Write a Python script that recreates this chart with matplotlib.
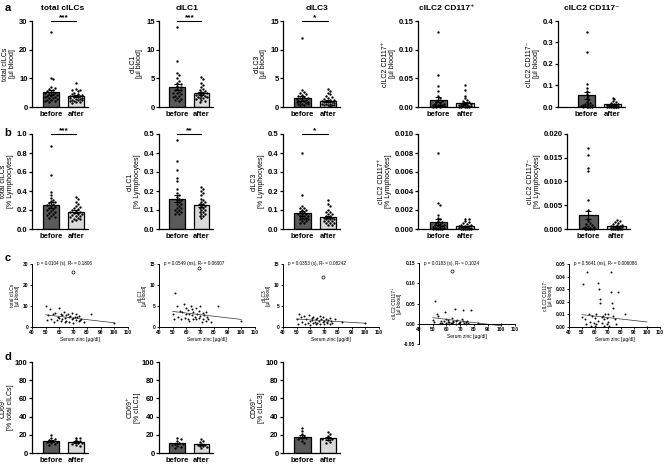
import numpy as np
import matplotlib
matplotlib.use("Agg")
import matplotlib.pyplot as plt
from matplotlib.ticker import FormatStrFormatter, MultipleLocator

plt.rcParams['font.family'] = ['Liberation Sans', 'DejaVu Sans']
plt.rcParams['font.weight'] = 'bold'
plt.rcParams['axes.linewidth'] = 0.9

W, H = 669, 465

# ---- data ----
groups = ["before", "after"]
titles = ["total cILCs", "cILC1", "cILC3", "cILC2 CD117\u207a", "cILC2 CD117\u207b"]

# row a: cells per ul blood
a1_before = [26, 10.2, 9.6, 7.0, 6.5, 6.2, 5.8, 5.5, 5.2, 5.0, 4.8, 4.6, 4.4, 4.2, 4.0, 3.8, 3.6, 3.4, 3.2, 3.0, 2.8, 2.6, 2.4, 2.2, 2.0, 1.8]
a1_after = [8.5, 6.2, 6.0, 5.8, 5.5, 5.0, 4.6, 4.4, 4.2, 4.0, 3.9, 3.7, 3.5, 3.4, 3.2, 3.0, 2.9, 2.8, 2.6, 2.5, 2.3, 2.2, 2.0, 1.8, 1.6, 1.4]
a2_before = [14.0, 8.0, 6.0, 5.6, 5.0, 4.6, 4.2, 4.0, 3.7, 3.5, 3.2, 3.0, 2.9, 2.7, 2.5, 2.4, 2.2, 2.0, 1.9, 1.7, 1.5, 1.4, 1.2, 1.0]
a2_after = [5.2, 4.8, 4.2, 3.8, 3.5, 3.2, 3.0, 2.8, 2.6, 2.5, 2.4, 2.3, 2.2, 2.1, 2.0, 1.9, 1.8, 1.7, 1.6, 1.5, 1.4, 1.2, 1.0, 0.8]
a3_before = [12.0, 3.0, 2.7, 2.5, 2.3, 2.1, 1.9, 1.7, 1.6, 1.5, 1.4, 1.3, 1.2, 1.1, 1.0, 0.9, 0.8, 0.8, 0.7, 0.6, 0.5, 0.5, 0.4, 0.3]
a3_after = [3.2, 2.8, 2.5, 2.2, 2.0, 1.8, 1.6, 1.4, 1.3, 1.2, 1.1, 1.0, 0.9, 0.8, 0.8, 0.7, 0.6, 0.6, 0.5, 0.4, 0.4, 0.3, 0.3, 0.2]
a4_before = [0.131, 0.055, 0.037, 0.028, 0.020, 0.016, 0.012, 0.010, 0.008, 0.007, 0.006, 0.005, 0.004, 0.004, 0.003, 0.003, 0.002, 0.002, 0.001, 0.001, 0.001, 0.0, 0.0, 0.0]
a4_after = [0.038, 0.030, 0.020, 0.015, 0.012, 0.010, 0.008, 0.007, 0.006, 0.005, 0.004, 0.004, 0.003, 0.003, 0.002, 0.002, 0.001, 0.001, 0.001, 0.0, 0.0, 0.0, 0.0, 0.0]
a5_before = [0.350, 0.255, 0.105, 0.090, 0.075, 0.060, 0.050, 0.040, 0.032, 0.025, 0.020, 0.016, 0.012, 0.010, 0.008, 0.006, 0.005, 0.004, 0.003, 0.002, 0.001, 0.001, 0.0, 0.0]
a5_after = [0.042, 0.035, 0.028, 0.022, 0.018, 0.015, 0.012, 0.010, 0.009, 0.008, 0.007, 0.006, 0.005, 0.004, 0.004, 0.003, 0.002, 0.002, 0.001, 0.001, 0.0, 0.0, 0.0, 0.0]
a_means = [[5.2, 3.8], [3.5, 2.4], [1.5, 1.1], [0.013, 0.007], [0.055, 0.012]]
a_sems = [[0.9, 0.35], [0.5, 0.25], [0.4, 0.15], [0.005, 0.002], [0.017, 0.002]]

# row b: % of lymphocytes
b1_before = [0.87, 0.57, 0.39, 0.36, 0.33, 0.31, 0.29, 0.28, 0.27, 0.26, 0.25, 0.24, 0.23, 0.22, 0.21, 0.20, 0.19, 0.18, 0.17, 0.16, 0.15, 0.14, 0.13, 0.12]
b1_after = [0.34, 0.32, 0.28, 0.26, 0.24, 0.23, 0.22, 0.21, 0.20, 0.19, 0.18, 0.18, 0.17, 0.16, 0.16, 0.15, 0.14, 0.14, 0.13, 0.12, 0.11, 0.10, 0.09, 0.08]
b2_before = [0.47, 0.36, 0.31, 0.27, 0.25, 0.21, 0.19, 0.18, 0.17, 0.16, 0.15, 0.15, 0.14, 0.13, 0.13, 0.12, 0.11, 0.11, 0.10, 0.10, 0.09, 0.09, 0.08, 0.08]
b2_after = [0.22, 0.21, 0.20, 0.19, 0.18, 0.16, 0.15, 0.14, 0.14, 0.13, 0.13, 0.12, 0.12, 0.11, 0.11, 0.10, 0.10, 0.09, 0.09, 0.08, 0.08, 0.07, 0.07, 0.06]
b3_before = [0.40, 0.18, 0.12, 0.11, 0.11, 0.10, 0.10, 0.09, 0.09, 0.08, 0.08, 0.08, 0.07, 0.07, 0.07, 0.06, 0.06, 0.05, 0.05, 0.05, 0.04, 0.04, 0.03, 0.03]
b3_after = [0.15, 0.13, 0.12, 0.10, 0.09, 0.09, 0.08, 0.08, 0.07, 0.07, 0.06, 0.06, 0.06, 0.05, 0.05, 0.05, 0.04, 0.04, 0.04, 0.03, 0.03, 0.03, 0.02, 0.02]
b4_before = [0.0080, 0.0027, 0.0025, 0.0015, 0.0012, 0.0010, 0.0008, 0.0007, 0.0006, 0.0005, 0.0004, 0.0004, 0.0003, 0.0003, 0.0002, 0.0002, 0.0001, 0.0001, 0.0001, 0.0, 0.0, 0.0, 0.0, 0.0]
b4_after = [0.0011, 0.0010, 0.0008, 0.0007, 0.0006, 0.0005, 0.0004, 0.0004, 0.0003, 0.0003, 0.0003, 0.0002, 0.0002, 0.0002, 0.0001, 0.0001, 0.0001, 0.0001, 0.0, 0.0, 0.0, 0.0, 0.0, 0.0]
b5_before = [0.0170, 0.0155, 0.0128, 0.0122, 0.0062, 0.0040, 0.0030, 0.0022, 0.0016, 0.0012, 0.0010, 0.0008, 0.0006, 0.0005, 0.0004, 0.0003, 0.0002, 0.0002, 0.0001, 0.0001, 0.0, 0.0, 0.0, 0.0]
b5_after = [0.0018, 0.0016, 0.0014, 0.0012, 0.0010, 0.0009, 0.0008, 0.0007, 0.0006, 0.0005, 0.0005, 0.0004, 0.0004, 0.0003, 0.0003, 0.0002, 0.0002, 0.0001, 0.0001, 0.0, 0.0, 0.0, 0.0, 0.0]
b_means = [[0.25, 0.18], [0.16, 0.125], [0.083, 0.065], [0.0007, 0.0003], [0.003, 0.0006]]
b_sems = [[0.03, 0.015], [0.017, 0.008], [0.013, 0.006], [0.0003, 0.00006], [0.0008, 0.0001]]

# row c: serum zinc vs cell counts
zinc = [50, 51, 52, 53, 54, 55, 56, 57, 58, 59, 60, 60, 61, 61, 62, 62, 63, 64, 64, 65,
        65, 66, 67, 67, 68, 69, 69, 70, 70, 71, 72, 72, 73, 74, 74, 75, 76, 78, 83, 100]
c1_y = [10.2, 3.5, 5.5, 8.8, 4.0, 6.0, 2.5, 6.5, 3.2, 5.0, 9.2, 4.5, 6.0, 2.8, 5.5, 3.6, 7.0, 4.2, 2.2, 5.8,
        3.0, 6.3, 4.8, 2.6, 5.2, 3.8, 6.6, 4.4, 2.0, 5.0, 3.3, 6.0, 4.6, 2.8, 5.4, 3.5, 4.0, 2.5, 6.0, 2.0]
c2_y = [3.0, 2.0, 8.0, 5.0, 2.5, 3.8, 1.8, 3.5, 5.5, 2.2, 4.5, 3.0, 2.0, 4.0, 3.2, 1.5, 5.0, 2.8, 4.2, 2.0,
        3.5, 2.5, 4.5, 1.8, 3.0, 2.2, 3.8, 5.0, 2.6, 1.2, 3.3, 2.0, 2.8, 3.6, 1.5, 2.4, 2.0, 1.2, 5.0, 1.5]
c3_y = [1.8, 0.8, 3.2, 2.4, 1.2, 2.6, 0.6, 2.0, 1.0, 2.8, 1.4, 0.5, 2.2, 1.6, 0.9, 2.5, 1.2, 1.8, 0.7, 2.2,
        1.0, 1.5, 2.6, 0.8, 1.9, 1.1, 2.4, 1.4, 0.6, 2.0, 1.2, 0.9, 1.7, 2.2, 0.8, 1.5, 1.0, 1.8, 1.3, 0.9]
c4_y = [0.010, 0.004, 0.055, 0.025, 0.020, 0.003, 0.008, 0.002, 0.006, 0.028, 0.012, 0.002, 0.005, 0.009, 0.000, 0.004, 0.003, 0.015, 0.001, 0.004,
        0.007, 0.036, 0.007, 0.000, 0.010, 0.003, 0.001, 0.005, 0.000, 0.012, 0.034, 0.006, 0.001, 0.004, 0.000, 0.008, 0.003, 0.034, 0.001, 0.000]
c5_y = [0.008, 0.034, 0.006, 0.002, 0.044, 0.010, 0.004, 0.001, 0.009, 0.003, 0.007, 0.001, 0.010, 0.002, 0.035, 0.005, 0.030, 0.022, 0.019, 0.008,
        0.003, 0.009, 0.001, 0.006, 0.010, 0.002, 0.007, 0.004, 0.010, 0.001, 0.044, 0.028, 0.019, 0.015, 0.009, 0.006, 0.002, 0.028, 0.010, 0.000]
c_outliers = [(70, 26), (69, 14), (69, 12), (64, 0.13), None]
c_fit = [(9.6, -0.076), (5.6, -0.038), (2.9, -0.02), (0.035, -0.0004), (0.0156, -0.000116)]
c_text = ["p = 0.0104 (s), R\u00b2 = 0.1806", "p = 0.0549 (ns), R\u00b2 = 0.06007",
          "p = 0.0353 (s), R\u00b2 = 0.08242", "p = 0.0183 (s), R\u00b2 = 0.1024",
          "p = 0.5641 (ns), R\u00b2 = 0.006086"]

# row d: CD69+ fraction
d1_before = [20, 16, 15, 14, 13, 12, 12, 11, 10, 9]
d1_after = [17, 16, 14, 13, 12, 11, 11, 10, 9, 8]
d2_before = [16, 15, 13, 11, 10, 10, 9, 8, 7, 6]
d2_after = [15, 13, 12, 10, 9, 9, 8, 8, 7, 6]
d3_before = [28, 24, 21, 19, 18, 17, 16, 15, 13, 11]
d3_after = [23, 21, 19, 17, 16, 15, 15, 14, 12, 11]
d_means = [[13, 12], [10.5, 9.5], [18, 16]]
d_sems = [[1.0, 0.9], [1.0, 0.8], [1.7, 1.2]]

colors = ["#5a5a5a", "#d9d9d9"]

fig = plt.figure(figsize=(W / 100, H / 100), dpi=100)


def add_ax(l, t, r, b):
    return fig.add_axes([l / W, 1 - b / H, (r - l) / W, (b - t) / H])


def swarm(vals, ytop, h_px, unit_px, d=2.4):
    # simple beeswarm kept inside the bar width
    max_off = 0.27 * unit_px
    cands = [0.0]
    k = 1
    while k * d * 0.8 <= max_off:
        cands += [k * d * 0.8, -k * d * 0.8]
        k += 1
    placed, offs = [], []
    for v in sorted(vals, reverse=True):
        y = v / ytop * h_px
        best, best_gap = 0.0, -1
        for c in cands:
            gap = min([np.hypot(c - px, y - py) for px, py in placed] + [99])
            if gap >= d:
                best = c
                break
            if gap > best_gap:
                best, best_gap = c, gap
        placed.append((best, y))
        offs.append((best / unit_px, v))
    return offs


def bar_panel(box, ytop, step, fmt, pts, means, sems, ylabel, sig=None, xl=-0.76, lpad=2):
    l, t, r, b = box
    ax = add_ax(l, t, r, b)
    xr = 1.48
    ax.set_xlim(xl, xr)
    ax.set_ylim(0, ytop)
    unit_px = (r - l) / (xr - xl)
    for i in range(2):
        ax.bar(i, means[i], width=0.65, color=colors[i], edgecolor="black", linewidth=0.9, zorder=2)
        for dx, v in swarm(pts[i], ytop, b - t, unit_px):
            ax.plot(i + dx, v, "o", ms=1.7, color="black", mew=0, zorder=3, clip_on=False)
        ax.errorbar(i, means[i], yerr=sems[i], color="black", capsize=2.5, elinewidth=0.8,
                    capthick=0.8, zorder=4)
    ax.yaxis.set_major_locator(MultipleLocator(step))
    ax.yaxis.set_major_formatter(FormatStrFormatter(fmt))
    ax.set_xticks([0, 1])
    ax.set_xticklabels(groups)
    ax.tick_params(axis="x", length=0, labelsize=5.5, pad=3)
    ax.tick_params(axis="y", length=2.2, width=0.9, labelsize=5.5, pad=1)
    for s in ["top", "right"]:
        ax.spines[s].set_visible(False)
    ax.set_ylabel(ylabel, fontsize=5, labelpad=lpad, linespacing=1.0)
    if sig:
        ax.plot([0, 1], [ytop, ytop], color="black", lw=0.8, clip_on=False)
        ax.text(0.5, ytop, sig, ha="center", va="bottom", fontsize=6, transform=ax.transData)
    return ax


def scatter_panel(box, ylo, ytop, step, fmt, yvals, outlier, fit, txt, ylabel):
    l, t, r, b = box
    ax = add_ax(l, t, r, b)
    ax.set_xlim(40, 110)
    ax.set_ylim(ylo, ytop)
    ax.plot(zinc, yvals, "o", ms=1.4, color="black", mew=0, clip_on=False)
    if outlier:
        ax.plot(outlier[0], outlier[1], "o", ms=2.2, mfc="white", mec="black", mew=0.5)
    xs = np.array([min(zinc), max(zinc)])
    ax.plot(xs, fit[0] + fit[1] * xs, color="#333333", lw=0.5)
    ax.xaxis.set_major_locator(MultipleLocator(10))
    ax.yaxis.set_major_locator(MultipleLocator(step))
    ax.yaxis.set_major_formatter(FormatStrFormatter(fmt))
    ax.tick_params(length=1.5, width=0.6, labelsize=3.5, pad=1)
    for s in ["top", "right"]:
        ax.spines[s].set_visible(False)
    ax.spines["left"].set_linewidth(0.7)
    ax.spines["bottom"].set_linewidth(0.7)
    if ylo < 0:
        ax.spines["bottom"].set_position(("data", 0))
    ax.set_xlabel("Serum zinc [\u00b5g/dl]", fontsize=3.5, labelpad=1)
    ax.set_ylabel(ylabel, fontsize=3.5, labelpad=2, linespacing=1.0)
    ax.text(0.05, 1.0, txt, transform=ax.transAxes, fontsize=3.3, fontweight="normal",
            va="center", ha="left")
    return ax


# panel letters and column titles
for lab, y in zip("abcd", [8, 133, 258, 357]):
    fig.text(8 / W, 1 - y / H, lab, fontsize=8, va="center", ha="center")
for tt, x in zip(titles, [63, 187, 317, 447, 592]):
    fig.text(x / W, 1 - 8 / H, tt, fontsize=6, ha="center", va="center")

# row a
a_boxes = [(32, 21, 88, 107), (159, 21, 213, 107), (283, 21, 340, 107), (418, 21, 478, 107), (558, 21, 625, 107)]
a_pts = [(a1_before, a1_after), (a2_before, a2_after), (a3_before, a3_after), (a4_before, a4_after), (a5_before, a5_after)]
a_lim = [(30, 10, "%d"), (15, 5, "%d"), (15, 5, "%d"), (0.15, 0.05, "%.2f"), (0.4, 0.1, "%.1f")]
a_lab = ["total cILCs\n[\u00b5l blood]", "cILC1\n[\u00b5l blood]", "cILC3\n[\u00b5l blood]",
         "cILC2 CD117\u207a\n[\u00b5l blood]", "cILC2 CD117\u207b\n[\u00b5l blood]"]
a_sig = ["***", "***", "*", None, None]
a_xl = [-0.76, -0.76, -0.76, -0.76, -1.1]
for i in range(5):
    bar_panel(a_boxes[i], a_lim[i][0], a_lim[i][1], a_lim[i][2], a_pts[i], a_means[i], a_sems[i],
              a_lab[i], a_sig[i], a_xl[i])

# row b
b_boxes = [(32, 134, 88, 229), (159, 134, 213, 229), (283, 134, 340, 229), (418, 134, 478, 229), (567, 134, 630, 229)]
b_pts = [(b1_before, b1_after), (b2_before, b2_after), (b3_before, b3_after), (b4_before, b4_after), (b5_before, b5_after)]
b_lim = [(1.0, 0.2, "%.1f"), (0.5, 0.1, "%.1f"), (0.5, 0.1, "%.1f"), (0.010, 0.002, "%.3f"), (0.020, 0.005, "%.3f")]
b_lab = ["total cILCs\n[% Lymphocytes]", "cILC1\n[% Lymphocytes]", "cILC3\n[% Lymphocytes]",
         "cILC2 CD117\u207a\n[% Lymphocytes]", "cILC2 CD117\u207b\n[% Lymphocytes]"]
b_sig = ["***", "**", "*", None, None]
for i in range(5):
    bar_panel(b_boxes[i], b_lim[i][0], b_lim[i][1], b_lim[i][2], b_pts[i], b_means[i], b_sems[i],
              b_lab[i], b_sig[i])

# row c
c_boxes = [(32, 264, 128, 327), (159, 264, 255, 327), (283, 264, 379, 327), (419, 263, 515, 344), (569, 264, 660, 327)]
c_ys = [c1_y, c2_y, c3_y, c4_y, c5_y]
c_lim = [(0, 30, 10, "%d"), (0, 15, 5, "%d"), (0, 15, 5, "%d"), (-0.05, 0.15, 0.05, "%.2f"), (0, 0.05, 0.01, "%.2f")]
for i in range(5):
    lo, hi, st, fm = c_lim[i]
    scatter_panel(c_boxes[i], lo, hi, st, fm, c_ys[i], c_outliers[i], c_fit[i], c_text[i], a_lab[i])

# row d
d_boxes = [(32, 362, 88, 453), (159, 362, 213, 453), (283, 362, 340, 453)]
d_pts = [(d1_before, d1_after), (d2_before, d2_after), (d3_before, d3_after)]
d_lab = ["CD69\u207a\n[% total cILCs]", "CD69\u207a\n[% cILC1]", "CD69\u207a\n[% cILC3]"]
for i in range(3):
    bar_panel(d_boxes[i], 100, 20, "%d", d_pts[i], d_means[i], d_sems[i], d_lab[i], lpad=0.5)

fig.savefig("out.png", dpi=100)
